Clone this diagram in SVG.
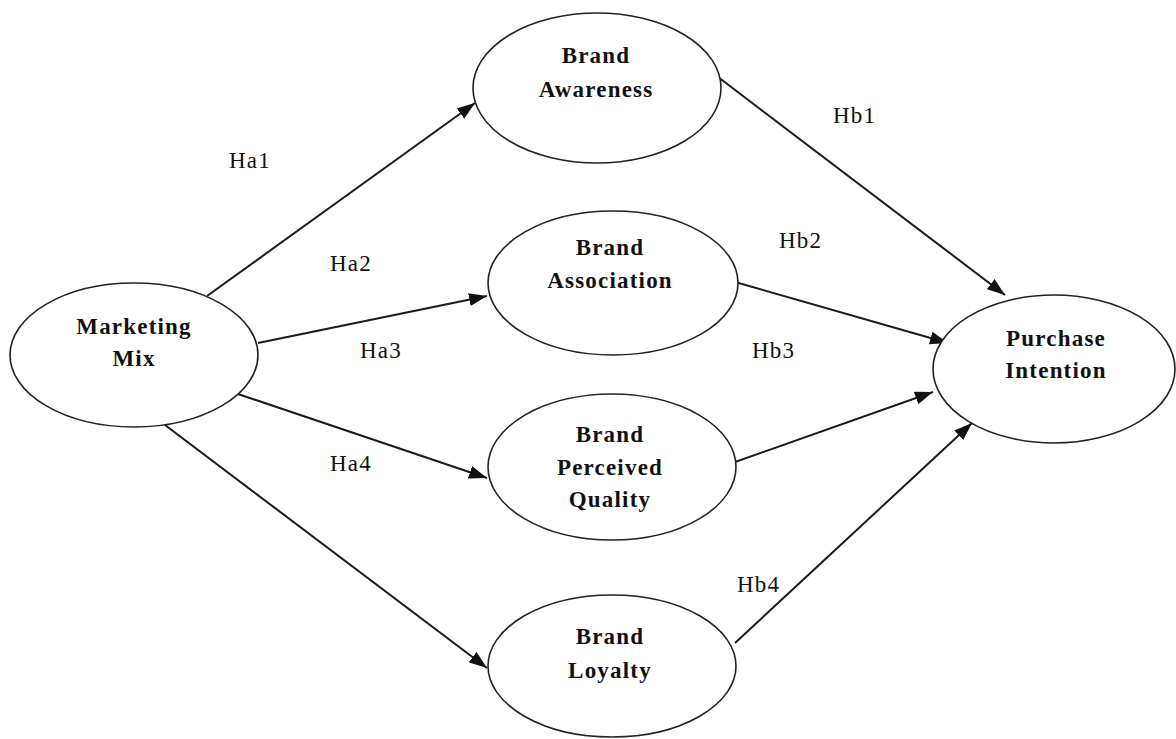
<svg xmlns="http://www.w3.org/2000/svg" width="1176" height="739" viewBox="0 0 1176 739">
<defs>
<style>
.node ellipse{fill:#fff;stroke:#222;stroke-width:1.6}
.nt{font-family:"Liberation Serif","Times New Roman",serif;font-weight:bold;font-size:23px;letter-spacing:1.2px;fill:#111;text-anchor:middle}
.lbl{font-family:"Liberation Serif","Times New Roman",serif;font-size:23px;letter-spacing:1.2px;fill:#111}
.conn line{stroke:#1a1a1a;stroke-width:2;marker-end:url(#ah)}
</style>
<marker id="ah" markerUnits="userSpaceOnUse" markerWidth="20" markerHeight="14" refX="18" refY="6.5" orient="auto">
<path d="M0,0 L18,6.5 L0,13 z" fill="#111"/>
</marker>
</defs>
<rect width="1176" height="739" fill="#fff"/>
<g id="connectors" class="conn">
<line x1="207" y1="296" x2="475" y2="103"/>
<line x1="258" y1="343" x2="487" y2="296"/>
<line x1="235" y1="393" x2="487" y2="478"/>
<line x1="165" y1="425" x2="487" y2="668"/>
<line x1="718" y1="77" x2="1005" y2="295"/>
<line x1="735" y1="282" x2="948" y2="343"/>
<line x1="735" y1="462" x2="933" y2="392"/>
<line x1="735" y1="643" x2="972" y2="423"/>
</g>
<g id="labels">
<text class="lbl" x="229" y="168">Ha1</text>
<text class="lbl" x="330" y="271">Ha2</text>
<text class="lbl" x="360" y="358">Ha3</text>
<text class="lbl" x="330" y="471">Ha4</text>
<text class="lbl" x="833" y="123">Hb1</text>
<text class="lbl" x="779" y="248">Hb2</text>
<text class="lbl" x="752" y="358">Hb3</text>
<text class="lbl" x="737" y="592">Hb4</text>
</g>
<g id="marketing-mix" class="node">
<ellipse cx="134" cy="355" rx="124" ry="72"/>
<text class="nt" x="134" y="334">Marketing</text>
<text class="nt" x="134" y="366">Mix</text>
</g>
<g id="brand-awareness" class="node">
<ellipse cx="597" cy="88" rx="124" ry="75"/>
<text class="nt" x="596" y="63">Brand</text>
<text class="nt" x="596" y="97">Awareness</text>
</g>
<g id="brand-association" class="node">
<ellipse cx="613" cy="283" rx="125" ry="72"/>
<text class="nt" x="610" y="255">Brand</text>
<text class="nt" x="610" y="288">Association</text>
</g>
<g id="brand-perceived-quality" class="node">
<ellipse cx="612" cy="467" rx="124" ry="73"/>
<text class="nt" x="610" y="442">Brand</text>
<text class="nt" x="610" y="475">Perceived</text>
<text class="nt" x="610" y="507">Quality</text>
</g>
<g id="brand-loyalty" class="node">
<ellipse cx="612" cy="666" rx="124" ry="71"/>
<text class="nt" x="610" y="644">Brand</text>
<text class="nt" x="610" y="678">Loyalty</text>
</g>
<g id="purchase-intention" class="node">
<ellipse cx="1054" cy="369" rx="121" ry="74"/>
<text class="nt" x="1056" y="346">Purchase</text>
<text class="nt" x="1056" y="378">Intention</text>
</g>
</svg>
